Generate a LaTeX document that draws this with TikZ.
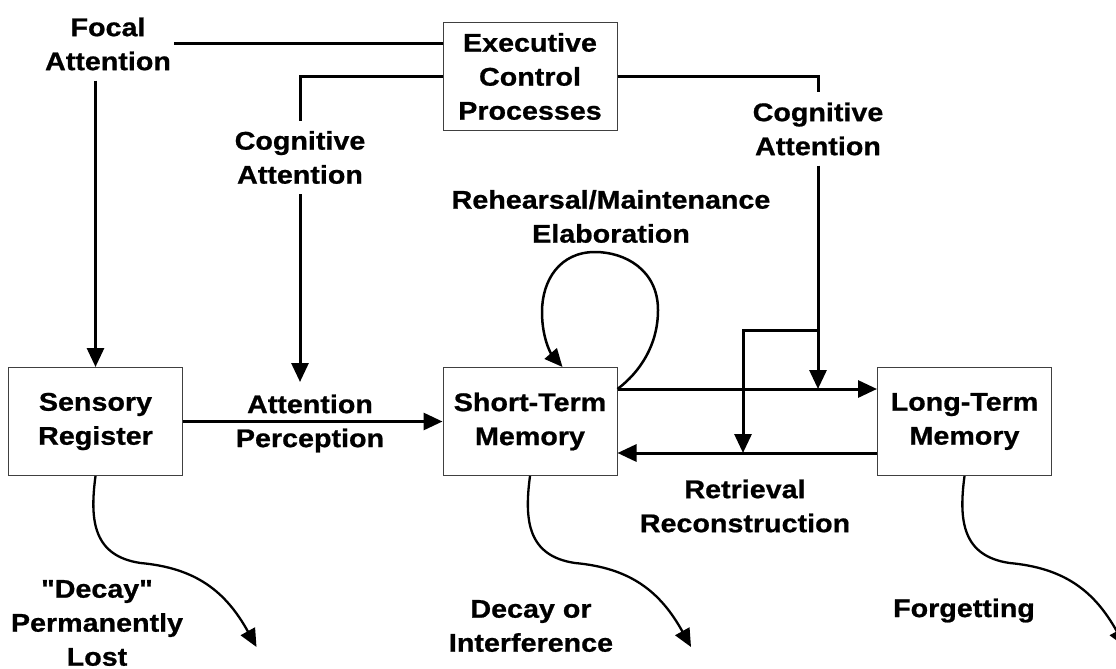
\documentclass[tikz,border=0pt]{standalone}
\usepackage{fontspec}
\setmainfont{Liberation Sans}[Ligatures=TeXOff, FakeStretch=1.12, BoldFeatures={FakeBold=0.8}]
\usetikzlibrary{arrows.meta,calc}

\tikzset{
  txt/.style={font=\bfseries\fontsize{25.6}{34}\selectfont, align=center, text=black},
  stage/.style={txt, draw=black!75, line width=1pt, minimum width=174pt, minimum height=108pt, inner sep=0pt},
  lab/.style={txt, inner xsep=3pt, inner ysep=10pt},
  conn/.style={line width=3pt, draw=black},
  tip/.style={-{Triangle[length=19pt,width=17pt]}},
  loopline/.style={line width=2.5pt, draw=black, -{Triangle[length=18pt,width=16pt]}},
  lossline/.style={line width=2.3pt, draw=black, -{Triangle[length=18pt,width=16pt]}}
}

\begin{document}
\begin{tikzpicture}[x=1pt,y=-1pt]
  \path[use as bounding box, fill=white] (0,0) rectangle (1116,669);

  % memory stages and the executive box
  \node[stage] (exec) at (530,76.5) {Executive\\Control\\Processes};
  \node[stage] (sens) at (95.5,421.5) {Sensory\\Register};
  \node[stage] (stm)  at (530,421.5) {Short-Term\\Memory};
  \node[stage] (ltm)  at (964.5,421.5) {Long-Term\\Memory};

  % labels
  \node[lab] (focal) at (108,44) {Focal\\Attention};
  \node[lab] (cogL)  at (300,157.5) {Cognitive\\Attention};
  \node[lab] (cogR)  at (818,129) {Cognitive\\Attention};
  \node[lab] (rehe)  at (611,216.5) {Rehearsal/Maintenance\\Elaboration};
  \node[lab] (attp)  at (310,423.5) {Attention\\Perception};
  \node[lab] (retr)  at (745,506) {Retrieval\\Reconstruction};
  \node[lab] (decS)  at (97,623) {"Decay"\\Permanently\\Lost};
  \node[lab] (decM)  at (531,626) {Decay or\\Interference};
  \node[lab] (forg)  at (964,610.5) {Forgetting};

  % helper points
  \coordinate (sOut) at ($(stm.north east)+(0,22)$);
  \coordinate (lOut) at ($(ltm.south west)+(0,-23)$);
  \coordinate (cogLtip) at (300,382);
  \coordinate (brR) at (818,330);
  \coordinate (brL) at (743,330);
  \coordinate (loopEnd) at ($(stm.north west)+(120,0)$);

  % executive control lines
  \draw[conn] (focal.east) -- (focal.east -| exec.west);
  \draw[conn,tip] (focal.south -| sens.north) -- (sens.north);
  \draw[conn] (exec.west) -| (cogL.north);
  \draw[conn,tip] (cogL.south) -- (cogLtip);
  \draw[conn] (exec.east) -| (cogR.north);
  \draw[conn,tip] (cogR.south) -- (cogR.south |- sOut);
  \draw[conn,tip] (brR) -- (brL) -- (brL |- lOut);

  % flow between the stages
  \draw[conn,tip] (sens) -- (stm);
  \draw[conn,tip] (sOut) -- (sOut -| ltm.west);
  \draw[conn,tip] (lOut) -- (lOut -| stm.east);

  % rehearsal loop
  \draw[loopline] (sOut) .. controls (640,372) and (658,345) .. (658,310)
    .. controls (658,270) and (625,252) .. (595,252)
    .. controls (560,252) and (542,280) .. (542,312)
    .. controls (542,340) and (552,355) .. (loopEnd);

  % loss from each store
  \draw[lossline] (sens.south) .. controls +(-6,45) and +(-47,-7) .. ++(45,87)
    .. controls +(55,5) and +(-31,-56) .. ++(116,84);
  \draw[lossline] (stm.south) .. controls +(-6,45) and +(-47,-7) .. ++(45,87)
    .. controls +(55,5) and +(-31,-56) .. ++(116,84);
  \draw[lossline] (ltm.south) .. controls +(-6,45) and +(-47,-7) .. ++(45,87)
    .. controls +(55,5) and +(-31,-56) .. ++(116,84);
\end{tikzpicture}
\end{document}
